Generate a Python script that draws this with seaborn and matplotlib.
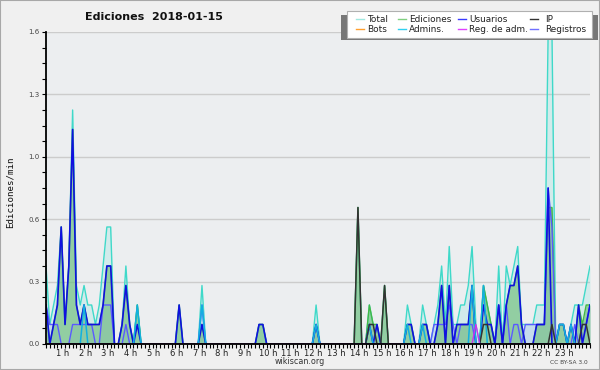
import matplotlib
matplotlib.use("Agg")
import matplotlib.pyplot as plt
import seaborn as sns
import pandas as pd
import numpy as np
from matplotlib.patches import Rectangle
from matplotlib.lines import Line2D
from matplotlib.ticker import FormatStrFormatter

# 10-minute slots over the day (144 slots), values in edits/min
total = [0.4, 0.1, 0.2, 0.3, 0.6, 0.1, 0.4, 1.2, 0.3, 0.2, 0.3, 0.2,
         0.2, 0.1, 0.2, 0.4, 0.6, 0.6, 0, 0, 0.1, 0.4, 0.1, 0,
         0.2, 0, 0, 0, 0, 0, 0, 0, 0, 0, 0, 0.2,
         0, 0, 0, 0, 0, 0.3, 0, 0, 0, 0, 0, 0,
         0, 0, 0, 0, 0, 0, 0, 0, 0.1, 0.1, 0, 0,
         0, 0, 0, 0, 0, 0, 0, 0, 0, 0, 0, 0.2,
         0, 0, 0, 0, 0, 0, 0, 0, 0, 0, 0.7, 0,
         0, 0.2, 0.1, 0.1, 0, 0.3, 0, 0, 0, 0, 0, 0.2,
         0.1, 0, 0, 0.2, 0.1, 0, 0.1, 0.2, 0.4, 0.1, 0.5, 0.1,
         0.1, 0.2, 0.2, 0.3, 0.5, 0.1, 0, 0.3, 0.2, 0.1, 0, 0.4,
         0, 0.4, 0.3, 0.4, 0.5, 0.1, 0.1, 0.1, 0.1, 0.2, 0.2, 0.2,
         1.6, 1.6, 0, 0.1, 0.1, 0, 0.1, 0.2, 0.2, 0.2, 0.3, 0.4]

ediciones = [0.2, 0, 0.1, 0.2, 0.6, 0.1, 0.4, 1.1, 0.2, 0.1, 0.2, 0.1,
             0.1, 0.1, 0.1, 0.2, 0.4, 0.4, 0, 0, 0.1, 0.3, 0.1, 0,
             0.2, 0, 0, 0, 0, 0, 0, 0, 0, 0, 0, 0.2,
             0, 0, 0, 0, 0, 0.1, 0, 0, 0, 0, 0, 0,
             0, 0, 0, 0, 0, 0, 0, 0, 0.1, 0.1, 0, 0,
             0, 0, 0, 0, 0, 0, 0, 0, 0, 0, 0, 0.1,
             0, 0, 0, 0, 0, 0, 0, 0, 0, 0, 0.7, 0,
             0, 0.2, 0.1, 0.1, 0, 0.3, 0, 0, 0, 0, 0, 0.1,
             0.1, 0, 0, 0.1, 0.1, 0, 0, 0.1, 0.3, 0, 0.3, 0,
             0.1, 0.1, 0.1, 0.1, 0.3, 0, 0, 0.3, 0.2, 0.1, 0, 0.2,
             0, 0.2, 0.3, 0.3, 0.4, 0.1, 0, 0, 0, 0.1, 0.1, 0.1,
             0.7, 0.7, 0, 0.1, 0.1, 0, 0.1, 0, 0.2, 0.1, 0.2, 0.2]

usuarios = [0.2, 0, 0.1, 0.2, 0.6, 0.1, 0.4, 1.1, 0.2, 0.1, 0.2, 0.1,
            0.1, 0.1, 0.1, 0.2, 0.4, 0.4, 0, 0, 0.1, 0.3, 0.1, 0,
            0.1, 0, 0, 0, 0, 0, 0, 0, 0, 0, 0, 0.2,
            0, 0, 0, 0, 0, 0.1, 0, 0, 0, 0, 0, 0,
            0, 0, 0, 0, 0, 0, 0, 0, 0.1, 0.1, 0, 0,
            0, 0, 0, 0, 0, 0, 0, 0, 0, 0, 0, 0.1,
            0, 0, 0, 0, 0, 0, 0, 0, 0, 0, 0, 0,
            0, 0.1, 0, 0.1, 0, 0, 0, 0, 0, 0, 0, 0.1,
            0.1, 0, 0, 0.1, 0.1, 0, 0, 0.1, 0.3, 0, 0.3, 0,
            0.1, 0.1, 0.1, 0.1, 0.3, 0, 0, 0.2, 0.1, 0.1, 0, 0.2,
            0, 0.2, 0.3, 0.3, 0.4, 0.1, 0, 0, 0, 0.1, 0.1, 0.1,
            0.8, 0, 0, 0.1, 0.1, 0, 0.1, 0, 0.2, 0, 0.1, 0.2]

ip = [0, 0, 0, 0, 0, 0, 0, 0, 0, 0, 0, 0,
      0, 0, 0, 0, 0, 0, 0, 0, 0, 0, 0, 0,
      0, 0, 0, 0, 0, 0, 0, 0, 0, 0, 0, 0,
      0, 0, 0, 0, 0, 0, 0, 0, 0, 0, 0, 0,
      0, 0, 0, 0, 0, 0, 0, 0, 0, 0, 0, 0,
      0, 0, 0, 0, 0, 0, 0, 0, 0, 0, 0, 0,
      0, 0, 0, 0, 0, 0, 0, 0, 0, 0, 0.7, 0,
      0, 0.1, 0.1, 0, 0, 0.3, 0, 0, 0, 0, 0, 0,
      0, 0, 0, 0, 0, 0, 0, 0, 0, 0, 0, 0,
      0, 0, 0, 0, 0, 0, 0, 0.1, 0.1, 0, 0, 0,
      0, 0, 0, 0, 0, 0, 0, 0, 0, 0, 0, 0,
      0, 0.1, 0, 0, 0, 0, 0, 0, 0, 0.1, 0.1, 0]

registros = [0.2, 0.1, 0.1, 0.1, 0, 0, 0, 0.1, 0.1, 0.1, 0.1, 0.1,
             0.1, 0, 0, 0.2, 0.2, 0.2, 0, 0, 0, 0.1, 0, 0,
             0, 0, 0, 0, 0, 0, 0, 0, 0, 0, 0, 0,
             0, 0, 0, 0, 0, 0.2, 0, 0, 0, 0, 0, 0,
             0, 0, 0, 0, 0, 0, 0, 0, 0, 0, 0, 0,
             0, 0, 0, 0, 0, 0, 0, 0, 0, 0, 0, 0.1,
             0, 0, 0, 0, 0, 0, 0, 0, 0, 0, 0, 0,
             0, 0, 0, 0, 0, 0, 0, 0, 0, 0, 0, 0,
             0, 0, 0, 0, 0, 0, 0.1, 0.1, 0.1, 0.1, 0.2, 0.1,
             0, 0.1, 0.1, 0.1, 0.1, 0, 0, 0, 0, 0, 0, 0.2,
             0, 0.2, 0, 0.1, 0.1, 0, 0.1, 0.1, 0.1, 0.1, 0.1, 0.1,
             0.8, 0.6, 0, 0, 0, 0, 0, 0.1, 0, 0.1, 0.1, 0.2]

admins = [0, 0, 0, 0, 0, 0, 0, 0, 0, 0, 0.2, 0,
          0, 0, 0, 0, 0, 0, 0, 0, 0, 0, 0, 0,
          0.2, 0, 0, 0, 0, 0, 0, 0, 0, 0, 0, 0,
          0, 0, 0, 0, 0, 0.2, 0, 0, 0, 0, 0, 0,
          0, 0, 0, 0, 0, 0, 0, 0, 0, 0, 0, 0,
          0, 0, 0, 0, 0, 0, 0, 0, 0, 0, 0, 0.1,
          0, 0, 0, 0, 0, 0, 0, 0, 0, 0, 0, 0,
          0, 0.1, 0, 0, 0, 0, 0, 0, 0, 0, 0, 0.1,
          0, 0, 0, 0.1, 0, 0, 0, 0, 0, 0, 0, 0,
          0, 0, 0, 0, 0.3, 0, 0, 0.3, 0, 0, 0, 0,
          0, 0, 0, 0, 0, 0, 0, 0, 0, 0, 0, 0,
          0, 0, 0, 0.1, 0.1, 0, 0.1, 0, 0, 0, 0, 0]

reg_adm = [0] * 113 + [0.1] + [0] * 30
bots = [0] * 144

hour_labels = ["1 h", "2 h", "3 h", "4 h", "5 h", "6 h", "7 h", "8 h", "9 h",
               "10 h", "11 h", "12 h", "13 h", "14 h", "15 h", "16 h", "17 h",
               "18 h", "19 h", "20 h", "21 h", "22 h", "23 h"]
y_tick_values = [0.0, 0.32, 0.64, 0.96, 1.28, 1.6]

df = pd.DataFrame({
    "slot": np.arange(len(total)),
    "Total": total, "Ediciones": ediciones, "Usuarios": usuarios, "IP": ip,
    "Registros": registros, "Admins": admins, "RegAdm": reg_adm, "Bots": bots,
})

W, H = 600, 370
fig = plt.figure(figsize=(W / 100, H / 100), dpi=100)
fig.patch.set_facecolor("#f0f0f0")


def px(x, y):
    return (x / W, 1 - y / H)


ax = fig.add_axes([46 / W, (H - 344) / H, 544 / W, 312 / H])
ax.set_facecolor("#eceef0")

# fills
ax.fill_between(df["slot"], df["Total"], color="#40e0d0", alpha=0.15, lw=0, zorder=1)
ax.fill_between(df["slot"], df["Registros"], color="#6a6aff", alpha=0.12, lw=0, zorder=1.05)
ax.fill_between(df["slot"], df["Ediciones"], color="#6cbd76", alpha=0.62, lw=0, zorder=1.1)

series = [
    ("Total", "#3fd9c9", 1.0, 2.0),
    ("Ediciones", "#44b844", 1.0, 2.05),
    ("Bots", "#ff9900", 1.0, 2.06),
    ("Registros", "#5a5aff", 1.0, 2.1),
    ("Usuarios", "#1010e0", 1.2, 2.15),
    ("Admins", "#12b0e0", 1.1, 2.2),
    ("IP", "#333333", 1.1, 2.25),
    ("RegAdm", "#cc33ee", 1.0, 2.3),
]
for name, col, lw, z in series:
    sns.lineplot(data=df, x="slot", y=name, color=col, lw=lw, ax=ax,
                 zorder=z, legend=False)

ax.set_xlabel("")
ax.set_ylabel("")
ax.set_xlim(0, 143)
ax.set_ylim(0, 1.6)

# x ticks
ax.set_xticks([6 * (k + 1) - 1.7 for k in range(len(hour_labels))])
ax.set_xticklabels(hour_labels)
ax.set_xticks(np.arange(0, 144), minor=True)
ax.tick_params(axis="x", which="major", length=0, pad=3.5, labelsize=6,
               labelcolor="#222222")
ax.tick_params(axis="x", which="minor", length=3, width=0.8, direction="out",
               color="black")

# y ticks
ax.set_yticks(y_tick_values)
ax.yaxis.set_major_formatter(FormatStrFormatter("%.1f"))
ax.set_yticks(np.linspace(0, 1.6, 21), minor=True)
ax.tick_params(axis="y", which="major", length=3, width=0.8, pad=1.5,
               labelsize=5, labelcolor="#444444")
ax.tick_params(axis="y", which="minor", length=3, width=0.8)
ax.yaxis.grid(True, which="major", color="#cccccc", lw=1)
ax.xaxis.grid(False)
ax.set_axisbelow(True)

for s in ["top", "right"]:
    ax.spines[s].set_visible(False)
for s in ["left", "bottom"]:
    ax.spines[s].set_color("black")
    ax.spines[s].set_linewidth(1.3)
    ax.spines[s].set_zorder(3)

# texts
fig.text(*px(154, 17), "Ediciones  2018-01-15", ha="center", va="center",
         fontsize=8, fontweight="bold", color="#111111")
fig.text(*px(10, 192), "Ediciones/min", rotation=90, ha="center", va="center",
         fontsize=6.6, family="DejaVu Sans Mono", color="#111111")
fig.text(*px(300, 361), "wikiscan.org", ha="center", va="center",
         fontsize=5.8, color="#333333")
fig.text(*px(569, 362), "CC BY-SA 3.0", ha="center", va="center",
         fontsize=4.2, color="#444444")

# legend (manual)
x0, y0 = px(341, 40)
x1, y1 = px(598, 14.5)
fig.add_artist(Rectangle((x0, y0), x1 - x0, y1 - y0, transform=fig.transFigure,
                         facecolor="#777777", edgecolor="none", zorder=10))
x0, y0 = px(347, 38)
x1, y1 = px(592, 11)
fig.add_artist(Rectangle((x0, y0), x1 - x0, y1 - y0, transform=fig.transFigure,
                         facecolor="white", edgecolor="#b0b0b0", lw=0.8, zorder=11))

legend_items = [
    ("Total", "#a0e8e0", 356, 367, 19), ("Ediciones", "#80cf80", 398, 409, 19),
    ("Usuarios", "#3a3aff", 458, 469, 19), ("IP", "#333333", 530, 545, 19),
    ("Bots", "#ffa030", 356, 367, 29), ("Admins.", "#30d0f0", 398, 409, 29),
    ("Reg. de adm.", "#e040ff", 458, 469, 29), ("Registros", "#7070ff", 530, 545, 29),
]
for lab, col, hx, tx, ry in legend_items:
    a = px(hx, ry)
    b = px(hx + 8, ry)
    fig.add_artist(Line2D([a[0], b[0]], [a[1], b[1]], transform=fig.transFigure,
                          color=col, lw=1, zorder=12))
    fig.text(*px(tx, ry), lab, ha="left", va="center", fontsize=6.4,
             color="#222222", zorder=12)

fig.add_artist(Rectangle((0, 0), 1, 1, transform=fig.transFigure, fill=False,
                         edgecolor="#a8a8a8", lw=1.5, zorder=20))

fig.savefig("out.png", dpi=100, facecolor=fig.get_facecolor())
